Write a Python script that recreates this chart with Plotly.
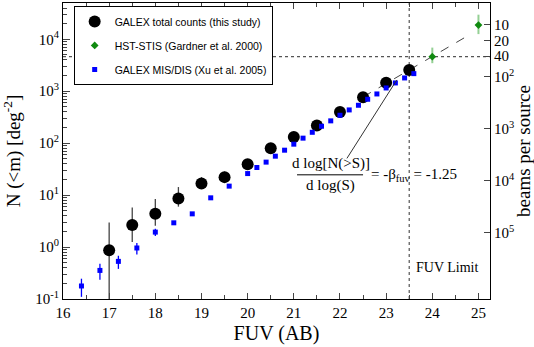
import plotly.graph_objects as go

# GALEX total counts (this study)
galex_mag = [17.0, 17.5, 18.0, 18.5, 19.0, 19.5, 20.0, 20.5, 21.0, 21.5, 22.0, 22.5, 23.0, 23.5]
galex_n = [0.87, 2.65, 4.36, 8.6, 16.7, 22.2, 39.5, 80, 132, 218, 400, 767, 1462, 2570]
galex_err_up = [2.1, 3.1, 4.1, 5.7, 5.5, 6.2, 7, 10, 13, 17, 23, 32, 44, 58]
galex_err_dn = [0.86, 1.4, 1.8, 2.6, 3.3, 3.4, 7, 10, 13, 17, 23, 32, 44, 58]

# HST-STIS (Gardner et al. 2000)
hst_mag = [24.0, 25.0]
hst_n = [4620, 18800]
hst_err_up = [2300, 11000]
hst_err_dn = [1150, 6200]

# GALEX MIS/DIS (Xu et al. 2005)
xu_mag = [16.4, 16.8, 17.2, 17.6, 18.0, 18.4, 18.8, 19.2, 19.6, 20.0, 20.2, 20.4, 20.6, 20.8,
          21.0, 21.2, 21.4, 21.6, 21.8, 22.0, 22.2, 22.4, 22.6, 22.8, 23.0, 23.2, 23.4, 23.6]
xu_n = [0.178, 0.355, 0.53, 0.96, 1.94, 2.93, 4.36, 8.87, 14.9, 26.0, 34.0, 43.2, 56.2, 73.3,
        95.7, 125, 162, 212, 269, 345, 437, 537, 701, 887, 1156, 1445, 1803, 2183]
xu_err = [0.068, 0.12, 0.15, 0.24, 0.3, 0, 0, 0, 0, 0, 0, 0, 0, 0,
          0, 0, 0, 0, 0, 0, 0, 0, 0, 0, 0, 0, 0, 0]

# slope -1.25 fit
fit_mag = [22.5, 24.85]
fit_n = [776, 12900]

# left axis tick labels
n_vals = [0.1, 1, 10, 100, 1000, 10000]
n_text = ["10<sup>-1</sup>", "10<sup>0</sup>", "10<sup>1</sup>", "10<sup>2</sup>", "10<sup>3</sup>", "10<sup>4</sup>"]

# right axis: beams per source
beam_vals = [10, 20, 40, 100, 1000, 10000, 100000]
beam_text = ["10", "20", "40", "10<sup>2</sup>", "10<sup>3</sup>", "10<sup>4</sup>", "10<sup>5</sup>"]

fuv_limit = 23.5
hst_level = 4620

serif = "Liberation Serif"
sans = "Liberation Sans"

fig = go.Figure()

fig.add_vline(x=fuv_limit, line=dict(color="#555", width=1.2, dash="dot"), layer="below")
fig.add_hline(y=hst_level, line=dict(color="#555", width=1.2, dash="dot"), layer="below")

fig.add_trace(go.Scatter(
    x=fit_mag, y=fit_n, mode="lines",
    line=dict(color="#444", width=1, dash="dash"),
    showlegend=False, hoverinfo="skip"
))

fig.add_trace(go.Scatter(
    x=galex_mag, y=galex_n, mode="markers", name="GALEX total counts (this study)",
    marker=dict(color="black", size=12, symbol="circle"),
    error_y=dict(type="data", symmetric=False, array=galex_err_up, arrayminus=galex_err_dn,
                 color="#444", thickness=1.3, width=0),
    legendgroup="a"
))
fig.add_trace(go.Scatter(
    x=hst_mag, y=hst_n, mode="markers", name="HST-STIS (Gardner et al. 2000)",
    marker=dict(color="#108a10", size=6, symbol="diamond"),
    error_y=dict(type="data", symmetric=False, array=hst_err_up, arrayminus=hst_err_dn,
                 color="rgba(60,170,60,0.55)", thickness=2, width=0),
    legendgroup="b"
))
fig.add_trace(go.Scatter(
    x=xu_mag, y=xu_n, mode="markers", name="GALEX MIS/DIS (Xu et al. 2005)",
    marker=dict(color="#0000ff", size=5, symbol="square"),
    error_y=dict(type="data", array=xu_err, color="#0000ff", thickness=1.3, width=0),
    legendgroup="c"
))

# invisible trace to hold the right axis
fig.add_trace(go.Scatter(
    x=[fuv_limit], y=[100], yaxis="y2", mode="markers",
    marker=dict(color="rgba(0,0,0,0)"), showlegend=False, hoverinfo="skip"
))

# slope annotation (annotation positions on log axes are log10)
fig.add_annotation(x=23.23, y=3.217, ax=22.13, ay=1.679, axref="x", ayref="y",
                   text="", showarrow=True, arrowhead=0, arrowwidth=1, arrowcolor="#333")
fig.add_shape(type="line", x0=21.07, x1=22.5, y0=24.6, y1=24.6, line=dict(color="black", width=1))
fig.add_annotation(x=21.8, y=1.6, text="d log[N(>S)]", showarrow=False,
                   font=dict(family=serif, size=15, color="black"))
fig.add_annotation(x=21.8, y=1.19, text="d log(S)", showarrow=False,
                   font=dict(family=serif, size=15, color="black"))
fig.add_annotation(x=22.62, y=1.39, text="= -β<sub>fuv</sub> = -1.25", showarrow=False,
                   xanchor="left", font=dict(family=serif, size=15, color="black"))
fig.add_annotation(x=23.6, y=-0.392, text="FUV Limit", showarrow=False,
                   xanchor="left", font=dict(family=serif, size=14, color="black"))

tickfont = dict(family=serif, size=15, color="black")

fig.update_layout(
    width=534, height=347,
    margin=dict(l=63, r=44, t=3, b=48),
    paper_bgcolor="white", plot_bgcolor="white",
    font=dict(family=serif, size=15, color="black"),
    xaxis=dict(
        range=[16, 25.25], dtick=1, tick0=16, ticks="inside", ticklen=6,
        minor=dict(dtick=0.5, ticks="inside", ticklen=4, tick0=16),
        showline=True, linecolor="black", linewidth=1, mirror="ticks",
        showgrid=False, zeroline=False, tickfont=tickfont, automargin=False,
        title=dict(text="FUV (AB)", font=dict(family=serif, size=20), standoff=5),
    ),
    yaxis=dict(
        type="log", range=[-1, 4.699], tickvals=n_vals, ticktext=n_text,
        ticks="inside", ticklen=7,
        minor=dict(ticks="inside", ticklen=4, dtick="D1"),
        showline=True, linecolor="black", linewidth=1,
        showgrid=False, zeroline=False, tickfont=tickfont, automargin=False,
        title=dict(text="N (<m) [deg<sup>-2</sup>]", font=dict(family=serif, size=19), standoff=14),
    ),
    yaxis2=dict(
        type="log", overlaying="y", side="right", range=[6.27, 0.58],
        tickvals=beam_vals, ticktext=beam_text, ticks="inside", ticklen=6,
        showline=True, linecolor="black", linewidth=1,
        showgrid=False, zeroline=False, tickfont=tickfont, automargin=False,
        title=dict(text="beams per source", font=dict(family=serif, size=19), standoff=5),
    ),
    legend=dict(
        x=0.025, y=0.99, xanchor="left", yanchor="top",
        bgcolor="white", bordercolor="black", borderwidth=1,
        font=dict(family=sans, size=10.5), itemwidth=30,
        traceorder="grouped", tracegroupgap=5,
    ),
)

# page body has a default 8px margin; drop it so the figure fills the window
fig.write_html("out.html", config={"displayModeBar": False},
               post_script="document.body.style.margin = '0';")
